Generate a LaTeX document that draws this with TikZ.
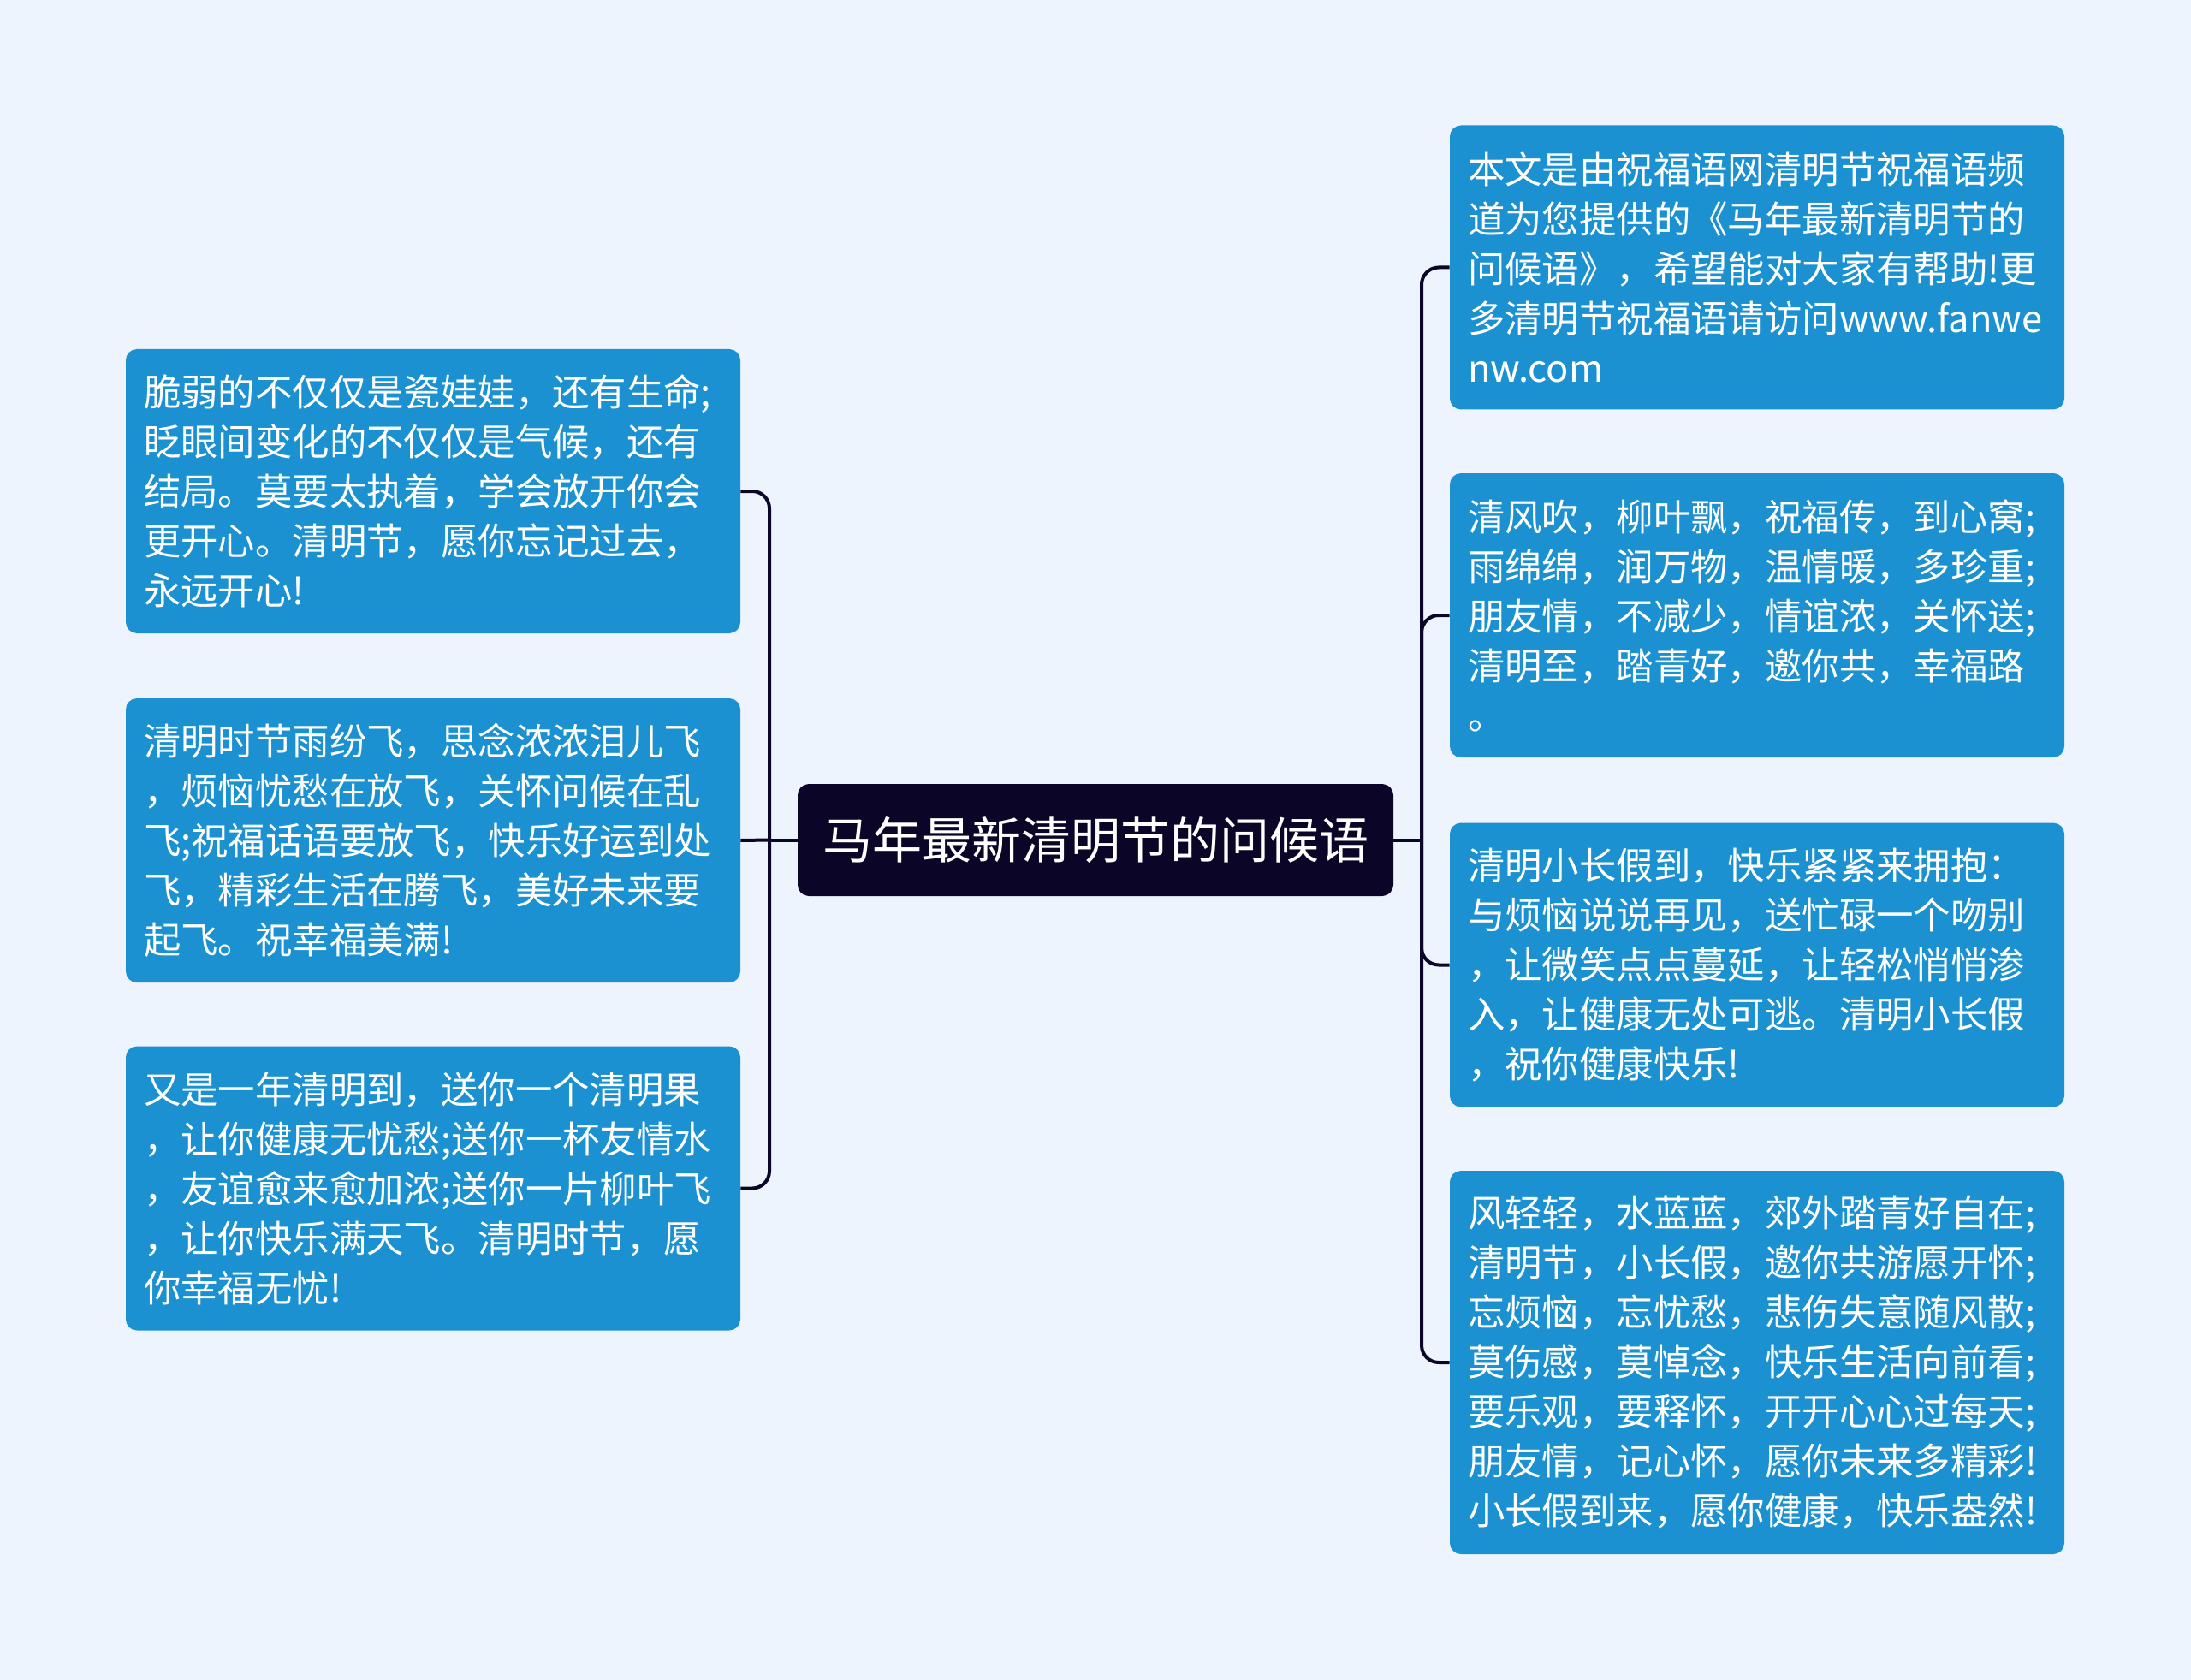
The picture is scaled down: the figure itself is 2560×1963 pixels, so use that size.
\documentclass[tikz,border=0pt]{standalone}
\usepackage{fontspec}
\newfontfamily\cjk{Noto Sans CJK SC}
\definecolor{bgblue}{HTML}{EEF4FE}
\definecolor{leafblue}{HTML}{1B91D1}
\definecolor{rootdark}{HTML}{0B0628}

\tikzset{
  leaf/.style={rounded corners=6.5pt, fill=leafblue, text=white, align=left,
    text width=338pt, inner xsep=10.5pt, inner ysep=0pt, minimum height=#1,
    font=\cjk\fontsize{21.7}{29}\selectfont},
  leaf/.default=166pt,
  root/.style={rounded corners=6.5pt, fill=rootdark, text=white,
    minimum width=348pt, minimum height=65.5pt, inner sep=0pt,
    font=\cjk\fontsize{29}{34}\selectfont},
  link/.style={draw=rootdark, line width=2pt}
}

\begin{document}
\begin{tikzpicture}[x=0.5pt, y=-0.5pt]
  \fill[bgblue] (0,0) rectangle (2560,1963);

  \node[root] (root) at (1280,981.5) {马年最新清明节的问候语};

  % 左边
  \node[leaf] (l1) at (506,574) {脆弱的不仅仅是瓷娃娃，还有生命;\\眨眼间变化的不仅仅是气候，还有\\结局。莫要太执着，学会放开你会\\更开心。清明节，愿你忘记过去，\\永远开心!};
  \node[leaf] (l2) at (506,982) {清明时节雨纷飞，思念浓浓泪儿飞\\，烦恼忧愁在放飞，关怀问候在乱\\飞;祝福话语要放飞，快乐好运到处\\飞，精彩生活在腾飞，美好未来要\\起飞。祝幸福美满!};
  \node[leaf] (l3) at (506,1388.5) {又是一年清明到，送你一个清明果\\，让你健康无忧愁;送你一杯友情水\\，友谊愈来愈加浓;送你一片柳叶飞\\，让你快乐满天飞。清明时节，愿\\你幸福无忧!};

  % 右边
  \node[leaf] (r1) at (2053,312.5) {本文是由祝福语网清明节祝福语频\\道为您提供的《马年最新清明节的\\问候语》，希望能对大家有帮助!更\\多清明节祝福语请访问www.fanwe\\nw.com};
  \node[leaf] (r2) at (2053,719) {清风吹，柳叶飘，祝福传，到心窝;\\雨绵绵，润万物，温情暖，多珍重;\\朋友情，不减少，情谊浓，关怀送;\\清明至，踏青好，邀你共，幸福路\\。};
  \node[leaf] (r3) at (2053,1127.5) {清明小长假到，快乐紧紧来拥抱：\\与烦恼说说再见，送忙碌一个吻别\\，让微笑点点蔓延，让轻松悄悄渗\\入，让健康无处可逃。清明小长假\\，祝你健康快乐!};
  \node[leaf=224pt] (r4) at (2053,1592) {风轻轻，水蓝蓝，郊外踏青好自在;\\清明节，小长假，邀你共游愿开怀;\\忘烦恼，忘忧愁，悲伤失意随风散;\\莫伤感，莫悼念，快乐生活向前看;\\要乐观，要释怀，开开心心过每天;\\朋友情，记心怀，愿你未来多精彩!\\小长假到来，愿你健康，快乐盎然!};

  % 连线
  \coordinate (jl) at (899,981.5);
  \coordinate (jr) at (1661,981.5);
  \draw[link] (root.west) -- (jl);
  \draw[link] (root.east) -- (jr);
  \foreach \n in {l1,l3}
    \draw[link, rounded corners=10pt] (jl) |- (\n.east);
  \draw[link] (jl) -- (l2.east);
  \foreach \n in {r1,r2,r3,r4}
    \draw[link, rounded corners=10pt] (jr) |- (\n.west);
\end{tikzpicture}
\end{document}
